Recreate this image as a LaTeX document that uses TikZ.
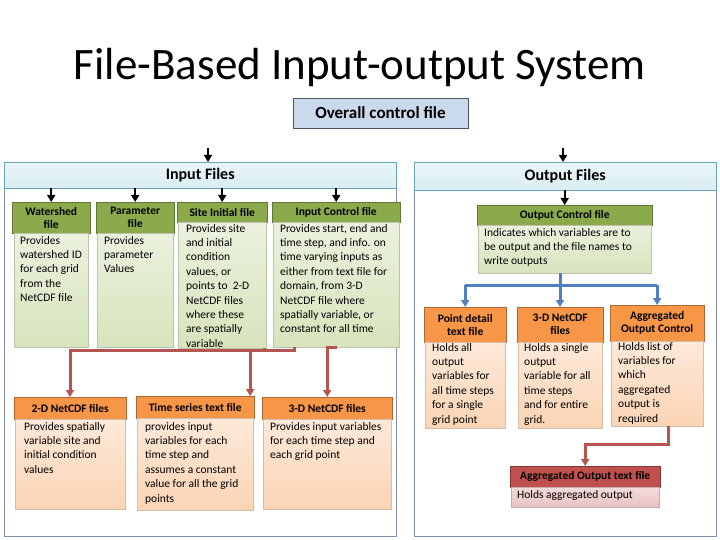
\documentclass[tikz,border=0pt]{standalone}
\usepackage{fontspec}
\setmainfont{Carlito}
\usetikzlibrary{arrows.meta}
\definecolor{gh}{HTML}{8AAA4C}\definecolor{gb}{HTML}{EBF1DE}\definecolor{gb2}{HTML}{D7E4BC}
\definecolor{oh}{HTML}{F79646}\definecolor{ob}{HTML}{FDE9D9}\definecolor{ob2}{HTML}{FBD4B4}
\definecolor{rh}{HTML}{C0504D}\definecolor{rb}{HTML}{F2DCDB}
\definecolor{bl}{HTML}{DAEEF3}\definecolor{pb}{HTML}{7F8FA9}\definecolor{ar}{HTML}{B85450}\definecolor{ab}{HTML}{4F81BD}
\tikzset{
 hd/.style={draw=#1!70!black,fill=#1,anchor=north west,inner sep=1pt,align=center,font=\fontsize{11.5}{13}\selectfont\bfseries},
 bd/.style={draw=#1!60!black!40,anchor=north west,inner sep=0pt},
 tx/.style={anchor=north west,align=left,inner sep=0pt,font=\fontsize{11.5}{14.4}\selectfont},
 ka/.style={-{Triangle[length=7pt,width=8pt]},line width=1.6pt},
 ra/.style={-{Triangle[length=7pt,width=8pt]},line width=3pt,draw=ar,color=ar},
 ba/.style={-{Triangle[length=7pt,width=8pt]},line width=3pt,draw=ab,color=ab},
 panel/.style={draw=pb,anchor=north west,inner sep=0pt},
 band/.style={draw=pb!80!cyan,top color=bl!60,bottom color=bl,anchor=north west,inner sep=0pt,font=\fontsize{16}{18}\selectfont\bfseries}
}
\begin{document}
\begin{tikzpicture}[x=1pt,y=-1pt]
\useasboundingbox (0,0) rectangle (720,540);
\node[font=\fontsize{45}{48}\selectfont] (title) at (360,68) {File-Based Input-output System};
\node[draw=pb!60!black,fill=ab!30,minimum width=175pt,minimum height=30pt,font=\fontsize{17}{19}\selectfont\bfseries] (ovr) at (380.5,113) {Overall control file};
% panels
\node[panel,minimum width=392pt,minimum height=374pt] (inp) at (4,162) {};
\node[band,minimum width=392pt,minimum height=26pt] (inh) at (4,162) {Input Files};
\node[panel,minimum width=302pt,minimum height=374pt] (outp) at (414,162) {};
\node[band,minimum width=302pt,minimum height=28pt] (outh) at (414,162) {Output Files};
\coordinate (c1) at (208,148); \coordinate (c2) at (563,148);
\draw[ka] (c1) -- (inh.north -| c1);
\draw[ka] (c2) -- (outh.north -| c2);
% input green boxes
\node[hd=gh,minimum width=78pt,minimum height=31pt,text width=70pt] (wsh) at (12,202) {Watershed\\file};
\node[bd=gh,minimum width=74pt,minimum height=114pt,top color=gb,bottom color=gb2] (wsb) at (14,233) {};
\node[tx] (wst) at (20,236) {Provides\\watershed ID\\for each grid\\from the\\NetCDF file};
\node[hd=gh,minimum width=78pt,minimum height=31pt,text width=70pt] (pah) at (96,202) {Parameter\\file};
\node[bd=gh,minimum width=76pt,minimum height=114pt,top color=gb,bottom color=gb2] (pab) at (97,233) {};
\node[tx] (pat) at (104,236) {Provides\\parameter\\Values};
\node[hd=gh,minimum width=90pt,minimum height=20pt] (sih) at (177,202) {Site Initial file};
\node[bd=gh,minimum width=88pt,minimum height=126pt,top color=gb,bottom color=gb2] (sib) at (178,222) {};
\node[tx] (sit) at (186,224) {Provides site\\and initial\\condition\\values, or\\points to\ \ 2-D\\NetCDF files\\where these\\are spatially\\variable};
\node[hd=gh,minimum width=128pt,minimum height=20pt] (ich) at (272,202) {Input Control file};
\node[bd=gh,minimum width=126pt,minimum height=125pt,top color=gb,bottom color=gb2] (icb) at (273,222) {};
\node[tx] (ict) at (280,224) {Provides start, end and\\time step, and info. on\\time varying inputs as\\either from text file for\\domain, from 3-D\\NetCDF file where\\spatially variable, or\\constant for all time};
\foreach \n in {ws,pa,si,ic} \draw[ka] (\n h.north |- inh.south) -- (\n h.north);
% input orange boxes
\node[hd=oh,minimum width=112pt,minimum height=22pt] (n2h) at (14,397) {2-D NetCDF files};
\node[bd=oh,minimum width=110pt,minimum height=90pt,top color=ob,bottom color=ob2] (n2b) at (15,419) {};
\node[tx] (n2t) at (24,422) {Provides spatially\\variable site and\\initial condition\\values};
\node[hd=oh,minimum width=118pt,minimum height=22pt] (tsh) at (136,396) {Time series text file};
\node[bd=oh,minimum width=116pt,minimum height=92pt,top color=ob,bottom color=ob2] (tsb) at (137,418) {};
\node[tx] (tst) at (145,422) {provides input\\variables for each\\time step and\\assumes a constant\\value for all the grid\\points};
\node[hd=oh,minimum width=130pt,minimum height=22pt] (n3h) at (262,397) {3-D NetCDF files};
\node[bd=oh,minimum width=128pt,minimum height=90pt,top color=ob,bottom color=ob2] (n3b) at (263,419) {};
\node[tx] (n3t) at (270,422) {Provides input variables\\for each time step and\\each grid point};
\draw[ra] ([xshift=42pt]sib.south) -- ++(0,2) -| (n2h.north -| 70,0);
\draw[ra] ([xshift=-42pt]icb.south) -- ++(0,3) -| ([xshift=55pt]tsh.north);
\draw[ra] ([xshift=1pt]icb.south) -- (icb.south -| n3h.north) -- (n3h.north);
% output
\node[hd=gh,minimum width=175pt,minimum height=20pt] (och) at (477,205) {Output Control file};
\node[bd=gh,minimum width=173pt,minimum height=48pt,top color=gb,bottom color=gb2] (ocb) at (478,225) {};
\node[tx] (oct) at (484,228) {Indicates which variables are to\\be output and the file names to\\write outputs};
\draw[ka] (outh.south -| och.north) -- (och.north);
\node[hd=oh,minimum width=82pt,minimum height=35pt] (pdh) at (424,307) {Point detail\\text file};
\node[bd=oh,minimum width=80pt,minimum height=86pt,top color=ob,bottom color=ob2] (pdb) at (425,342) {};
\node[tx] (pdt) at (432,343) {Holds all\\output\\variables for\\all time steps\\for a single\\grid point};
\node[hd=oh,minimum width=86pt,minimum height=35pt] (o3h) at (517,307) {3-D NetCDF\\files};
\node[bd=oh,minimum width=84pt,minimum height=86pt,top color=ob,bottom color=ob2] (o3b) at (518,342) {};
\node[tx] (o3t) at (524,343) {Holds a single\\output\\variable for all\\time steps\\and for entire\\grid.};
\node[hd=oh,minimum width=94pt,minimum height=36pt] (agh) at (610,305) {Aggregated\\Output Control};
\node[bd=oh,minimum width=92pt,minimum height=85pt,top color=ob,bottom color=ob2] (agb) at (611,341) {};
\node[tx] (agt) at (618,342) {Holds list of\\variables for\\which\\aggregated\\output is\\required};
\coordinate (bj) at (560,285);
\draw[ab,line width=3pt] (ocb.south -| bj) -- (bj);
\draw[ab,line width=3pt] (pdh.north |- bj) -- (agh.north |- bj);
\draw[ba] (bj) -- (o3h.north -| bj);
\draw[ba] (pdh.north |- bj) -- (pdh.north);
\draw[ba] (agh.north |- bj) -- (agh.north);
\node[hd=rh,minimum width=150pt,minimum height=21pt] (ath) at (510,466) {Aggregated Output text file};
\node[bd=rh,minimum width=148pt,minimum height=20pt,top color=rb,bottom color=rh!35] (atb) at (511,487) {};
\node[tx] (att) at (517,490) {Holds aggregated output};
\draw[ra] ([xshift=11pt]agb.south) -- ++(0,18) -| (ath.north);
\end{tikzpicture}
\end{document}
